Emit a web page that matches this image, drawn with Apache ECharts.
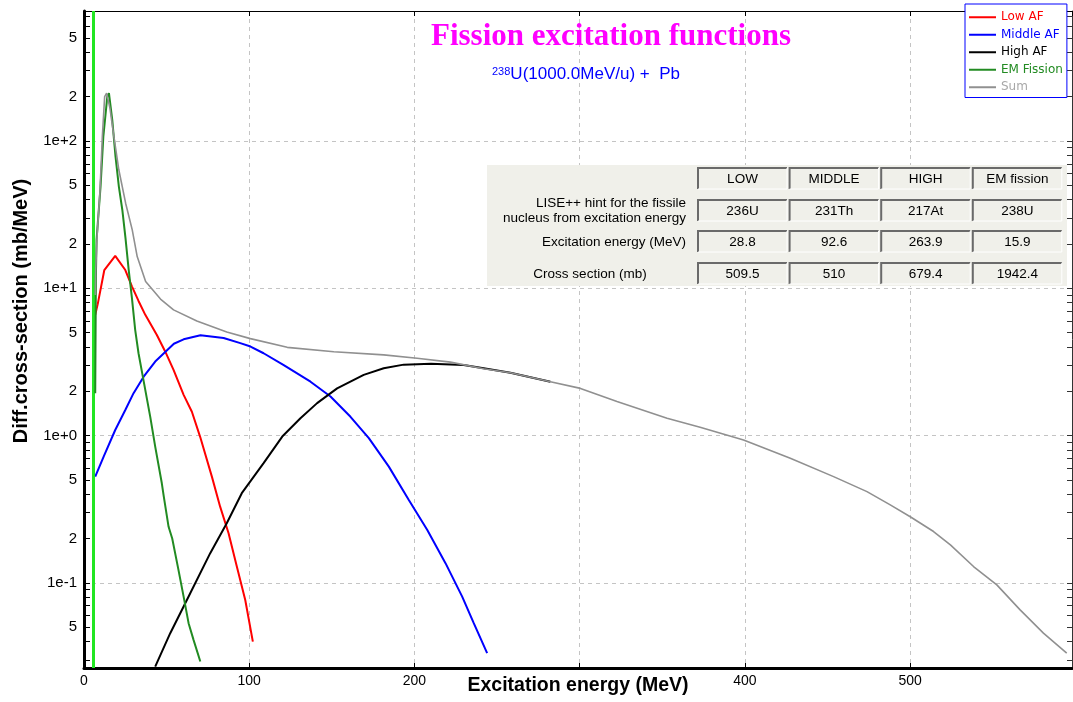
<!DOCTYPE html>
<html>
<head>
<meta charset="utf-8">
<title>Fission excitation functions</title>
<script src="https://cdn.jsdelivr.net/npm/echarts@6/dist/echarts.min.js"></script>
<style>
  html, body { margin: 0; padding: 0; background: #fff; }
  #main { width: 1073px; height: 702px; }
</style>
</head>
<body>
<div id="main"></div>
<script>
// [excitation energy (MeV), diff. cross-section (mb/MeV)]
var lowAF = [[6.8, 6.6], [8.3, 7.8], [12.3, 13.3], [18.9, 16.6], [25, 13.3], [29, 10.3], [33, 8.2],
  [37.1, 6.6], [44.1, 4.82], [49.2, 3.71], [54.2, 2.79], [60.3, 1.89], [65.3, 1.45], [70.3, 0.98],
  [77.4, 0.526], [82.4, 0.329], [87.5, 0.217], [92.5, 0.129], [97.6, 0.0765], [102.2, 0.0399]];

var middleAF = [[6.8, 0.526], [11.9, 0.72], [18.9, 1.09], [25, 1.49], [30, 1.94], [36.1, 2.51],
  [43.1, 3.18], [54.4, 4.2], [60.3, 4.5], [70.5, 4.8], [84.5, 4.6], [94.6, 4.24], [100.8, 4.02],
  [108.7, 3.62], [120.9, 3.01], [137.1, 2.32], [149.2, 1.84], [161.3, 1.34], [172.4, 0.96],
  [184.5, 0.615], [196.6, 0.365], [207.7, 0.229], [218.8, 0.136], [228.9, 0.0806], [235.9, 0.0532],
  [244, 0.0333]];

var highAF = [[43.1, 0.027], [52.2, 0.0455], [64.3, 0.085], [76.4, 0.159], [86.4, 0.254],
  [95.5, 0.406], [108.7, 0.649], [120, 0.984], [131, 1.31], [141.1, 1.66], [153.2, 2.09],
  [169.3, 2.58], [181.4, 2.86], [193.5, 3.03], [210, 3.07], [229.8, 3.01], [241.9, 2.86],
  [258.1, 2.67], [282.3, 2.32]];

var emFission = [[6.8, 1.94], [7.2, 12], [7.6, 21.3], [10, 48.8], [11.7, 107], [14.1, 200],
  [15.1, 211], [17.1, 139], [19.1, 78], [21.1, 49], [23.2, 34], [25.1, 22], [27, 13.5], [29, 8.6],
  [31, 5.2], [33, 3.62], [36, 2.38], [40.1, 1.34], [43.1, 0.84], [47.1, 0.474], [48.3, 0.385],
  [51.2, 0.24], [53.4, 0.2], [57.2, 0.122], [60.3, 0.0806], [63.3, 0.0532], [66.3, 0.041],
  [70.4, 0.0292]];

var sumAF = [[6.8, 9.0], [7, 12.6], [8, 23.6], [9.6, 44], [11.1, 107], [12.5, 200], [13.7, 211],
  [15.7, 167], [18.1, 107], [21.1, 63.5], [25.2, 37.8], [29.2, 24.9], [32.2, 16.4], [37.3, 11.1],
  [46.3, 8.45], [54.2, 7.13], [68.3, 6.0], [86.4, 5.05], [100.7, 4.55], [123, 3.97], [151.2, 3.71],
  [181.4, 3.53], [201.6, 3.35], [221.8, 3.15], [241.9, 2.84], [258.1, 2.67], [282.3, 2.32],
  [300.5, 2.09], [322.6, 1.70], [352.9, 1.31], [372.9, 1.14], [399.2, 0.933], [427.5, 0.701],
  [453.7, 0.526], [473.9, 0.416], [488, 0.338], [500.1, 0.281], [514.2, 0.223], [524.4, 0.181],
  [538.4, 0.129], [552.5, 0.0968], [566.6, 0.0655], [580.7, 0.0455], [594.8, 0.0333]];

var seriesNames = ['Low AF', 'Middle AF', 'High AF', 'EM Fission', 'Sum'];
var seriesColors = ['#ff0000', '#0000ff', '#000000', '#228b22', '#909090'];
var legendTextColors = ['#ff0000', '#0000ff', '#000000', '#228b22', '#a8a8a8'];

var X_MIN = 0, X_MAX = 598, X_STEP = 100;
var Y_MIN = 0.0264, Y_MAX = 763;
var barrierEnergy = 5.6;   // the lime vertical line

var yTickValues = [0.03, 0.04, 0.05, 0.06, 0.07, 0.08, 0.09,
  0.1, 0.2, 0.3, 0.4, 0.5, 0.6, 0.7, 0.8, 0.9,
  1, 2, 3, 4, 5, 6, 7, 8, 9,
  10, 20, 30, 40, 50, 60, 70, 80, 90,
  100, 200, 300, 400, 500, 600, 700];
var yLabelValues = [0.05, 0.1, 0.2, 0.5, 1, 2, 5, 10, 20, 50, 100, 200, 500];

// table in the plot
var tableCols = ['LOW', 'MIDDLE', 'HIGH', 'EM fission'];
var tableNuclei = ['236U', '231Th', '217At', '238U'];
var tableEnergy = ['28.8', '92.6', '263.9', '15.9'];
var tableSigma = ['509.5', '510', '679.4', '1942.4'];
var tableRowLabels = ['LISE++ hint for the fissile\nnucleus from excitation energy',
  'Excitation energy (MeV)', 'Cross section (mb)'];

var sansFont = "'Liberation Sans', Arial, sans-serif";

function lg(v) { return Math.log10(v); }

function logLabel(v) {
    var r = Math.round(v);
    if (Math.abs(v - r) < 1e-6) {
        return '1e' + (r < 0 ? '-' : '+') + Math.abs(r);
    }
    return String(Math.round(Math.pow(10, v - Math.floor(v))));
}

function buildTable() {
    var els = [];
    els.push({ type: 'rect', shape: { x: 487, y: 165, width: 580, height: 121 },
        style: { fill: '#f0f0ea' }, z: 10 });
    var colX = 698, colW = 89, colStep = 91.6, rowH = 21;
    var rowY = [168, 200, 231, 263];
    var rows = [tableCols, tableNuclei, tableEnergy, tableSigma];
    rows.forEach(function (row, r) {
        row.forEach(function (txt, c) {
            var x = colX + c * colStep, y = rowY[r];
            els.push({ type: 'polyline', z: 11,
                shape: { points: [[x, y + rowH], [x, y], [x + colW, y]] },
                style: { stroke: '#6a6a6a', lineWidth: 2, fill: null } });
            els.push({ type: 'polyline', z: 11,
                shape: { points: [[x + colW, y], [x + colW, y + rowH], [x, y + rowH]] },
                style: { stroke: '#ffffff', lineWidth: 1, fill: null } });
            els.push({ type: 'text', z: 12, x: x + colW / 2, y: y + rowH / 2 + 1,
                style: { text: txt, align: 'center', verticalAlign: 'middle',
                    fontSize: 13.5, fontFamily: sansFont, fill: '#000' } });
        });
    });
    els.push({ type: 'text', z: 12, x: 686, y: 211,
        style: { text: tableRowLabels[0], align: 'right', verticalAlign: 'middle', lineHeight: 15,
            fontSize: 13.5, fontFamily: sansFont, fill: '#000' } });
    els.push({ type: 'text', z: 12, x: 686, y: 242,
        style: { text: tableRowLabels[1], align: 'right', verticalAlign: 'middle',
            fontSize: 13.5, fontFamily: sansFont, fill: '#000' } });
    els.push({ type: 'text', z: 12, x: 590, y: 274,
        style: { text: tableRowLabels[2], align: 'center', verticalAlign: 'middle',
            fontSize: 13.5, fontFamily: sansFont, fill: '#000' } });
    // y axis title
    els.push({ type: 'text', z: 12, x: 21, y: 311, rotation: Math.PI / 2,
        style: { text: 'Diff.cross-section (mb/MeV)', align: 'center', verticalAlign: 'middle',
            fontSize: 20, fontWeight: 'bold', fontFamily: sansFont, fill: '#000' } });
    return els;
}

var chart = echarts.init(document.getElementById('main'));

var seriesData = [lowAF, middleAF, highAF, emFission, sumAF];
var series = seriesData.map(function (d, i) {
    return {
        name: seriesNames[i],
        type: 'line',
        data: d,
        xAxisIndex: 0,
        yAxisIndex: 0,
        showSymbol: false,
        symbol: 'none',
        color: seriesColors[i],
        lineStyle: { color: seriesColors[i], width: i === 4 ? 1.6 : 2 },
        z: 3 + i
    };
});
series[0].markLine = {
    silent: true,
    symbol: ['none', 'none'],
    label: { show: false },
    lineStyle: { color: '#22e622', width: 3, type: 'solid' },
    data: [{ xAxis: barrierEnergy }]
};

var dashed = { show: true, showMinLine: false, showMaxLine: false,
    lineStyle: { color: '#c4c4c4', type: [4, 4], width: 1 } };

chart.setOption({
    animation: false,
    backgroundColor: '#fff',
    title: [{
        text: 'Fission excitation functions',
        left: 431, top: 21, padding: 0,
        textStyle: { fontFamily: "'Liberation Serif', 'Times New Roman', serif", fontWeight: 'bold',
            fontSize: 31, color: '#ff00ff' }
    }, {
        text: '{sup|238}U(1000.0MeV/u) +  Pb',
        left: 492, top: 66, padding: 0,
        textStyle: { fontFamily: sansFont, fontWeight: 'normal', fontSize: 17, color: '#0000ff',
            rich: { sup: { fontSize: 11, verticalAlign: 'top', color: '#0000ff', fontFamily: sansFont } } }
    }],
    legend: {
        orient: 'vertical',
        left: 965, top: 4,
        padding: [6, 4, 3, 4],
        itemGap: 3,
        itemWidth: 27, itemHeight: 2,
        itemTextGap: 5,
        icon: 'rect',
        borderColor: '#0000ff', borderWidth: 1, borderRadius: 0,
        backgroundColor: '#ffffff',
        textStyle: { fontSize: 12, lineHeight: 14.5, fontFamily: "'DejaVu Sans', sans-serif" },
        data: seriesNames.map(function (n, i) {
            return { name: n, textStyle: { color: legendTextColors[i] } };
        })
    },
    grid: { left: 84, right: 1, top: 11, bottom: 34, outerBoundsMode: 'none', containLabel: false },
    xAxis: [{
        type: 'value', position: 'bottom',
        min: X_MIN, max: X_MAX, interval: X_STEP,
        axisLine: { show: true, onZero: false, lineStyle: { color: '#000', width: 3 } },
        axisTick: { show: true, inside: true, length: 5, lineStyle: { color: '#000' } },
        axisLabel: { show: true, color: '#000', fontSize: 14, fontFamily: sansFont, margin: 6,
            showMaxLabel: false,
            formatter: function (v) { return v === 300 ? '' : String(v); } },
        splitLine: dashed,
        name: 'Excitation energy (MeV)', nameLocation: 'middle', nameGap: 8,
        nameMoveOverlap: false,
        nameTextStyle: { color: '#000', fontSize: 19.5, fontWeight: 'bold', fontFamily: sansFont }
    }, {
        type: 'value', position: 'top',
        min: X_MIN, max: X_MAX, interval: X_STEP,
        axisLine: { show: true, onZero: false, lineStyle: { color: '#000', width: 1 } },
        axisTick: { show: true, inside: true, length: 5, lineStyle: { color: '#000' } },
        axisLabel: { show: false },
        splitLine: { show: false }
    }],
    yAxis: [{
        type: 'log', logBase: 10, min: Y_MIN, max: Y_MAX,
        axisLine: { show: false, onZero: false }, axisTick: { show: false }, axisLabel: { show: false },
        splitLine: dashed
    }, {
        type: 'value', position: 'left',
        min: lg(Y_MIN), max: lg(Y_MAX),
        axisLine: { show: true, onZero: false, lineStyle: { color: '#000', width: 3 } },
        axisTick: { show: true, inside: true, length: 6, customValues: yTickValues.map(lg),
            lineStyle: { color: '#000' } },
        axisLabel: { show: true, customValues: yLabelValues.map(lg), formatter: logLabel,
            color: '#000', fontSize: 15, fontFamily: sansFont, margin: 7 },
        splitLine: { show: false }
    }, {
        type: 'value', position: 'right',
        min: lg(Y_MIN), max: lg(Y_MAX),
        axisLine: { show: true, onZero: false, lineStyle: { color: '#333', width: 1 } },
        axisTick: { show: true, inside: true, length: 5, customValues: yTickValues.map(lg),
            lineStyle: { color: '#333' } },
        axisLabel: { show: false },
        splitLine: { show: false }
    }],
    graphic: buildTable(),
    series: series
});
</script>
</body>
</html>
